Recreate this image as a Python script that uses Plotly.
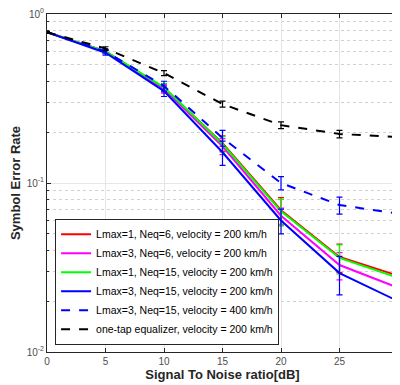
import plotly.graph_objects as go

snr = [0, 5, 10, 15, 20, 25, 30]

ser_l1_n6 = [0.78, 0.60, 0.365, 0.172, 0.069, 0.0365, 0.0283]
ser_l3_n6 = [0.78, 0.60, 0.360, 0.165, 0.064, 0.0327, 0.0240]
ser_l1_n15 = [0.78, 0.60, 0.368, 0.170, 0.068, 0.0360, 0.0275]
ser_l3_n15 = [0.78, 0.59, 0.350, 0.152, 0.060, 0.0293, 0.0200]
ser_l3_n15_400 = [0.78, 0.60, 0.375, 0.185, 0.100, 0.0740, 0.0660]
ser_onetap = [0.78, 0.625, 0.447, 0.293, 0.220, 0.195, 0.187]

err_l1_n6 = [0.005, 0.015, 0.02, 0.018, 0.013, 0.007, 0.005]
err_l3_n6 = [0.005, 0.015, 0.02, 0.018, 0.007, 0.006, 0.005]
err_l1_n15 = [0.005, 0.015, 0.02, 0.018, 0.012, 0.007, 0.005]
err_l3_n15 = [0.005, 0.02, 0.025, 0.025, 0.010, 0.0075, 0.0045]
err_l3_n15_400 = [0.005, 0.02, 0.025, 0.02, 0.009, 0.0085, 0.008]
err_onetap = [0.01, 0.015, 0.015, 0.012, 0.01, 0.01, 0.01]

labels = [
    "Lmax=1, Neq=6, velocity = 200 km/h",
    "Lmax=3, Neq=6, velocity = 200 km/h",
    "Lmax=1, Neq=15, velocity = 200 km/h",
    "Lmax=3, Neq=15, velocity = 200 km/h",
    "Lmax=3, Neq=15, velocity = 400 km/h",
    "one-tap equalizer, velocity = 200 km/h",
]

y_tickvals = [0.01, 0.1, 1]
y_ticktext = ["10<sup>-2</sup>", "10<sup>-1</sup>", "10<sup>0</sup>"]
x_tickvals = [0, 5, 10, 15, 20, 25, 30]

series = [ser_l1_n6, ser_l3_n6, ser_l1_n15, ser_l3_n15, ser_l3_n15_400, ser_onetap]
errors = [err_l1_n6, err_l3_n6, err_l1_n15, err_l3_n15, err_l3_n15_400, err_onetap]
colors = ["#FF0000", "#FF00FF", "#00FF00", "#0000FF", "#0000FF", "#000000"]
dashes = ["solid", "solid", "solid", "solid", "dash", "dash"]

fig = go.Figure()
for y, e, c, d, name in zip(series, errors, colors, dashes, labels):
    fig.add_trace(go.Scatter(
        x=snr, y=y, name=name, mode="lines",
        line=dict(color=c, width=2, dash=d),
        error_y=dict(type="data", array=e, visible=True, color=c, thickness=1.2, width=3),
    ))

axis_common = dict(
    showline=True, linecolor="#262626", linewidth=1, mirror="ticks",
    ticks="inside", ticklen=4, tickcolor="#262626",
    tickfont=dict(family="Liberation Sans, Arial", size=10, color="#4d4d4d"),
    showgrid=True, gridcolor="#e6e6e6", gridwidth=1, zeroline=False,
    automargin=False, ticklabeloverflow="allow",
)

fig.update_xaxes(range=[0, 30], tickvals=x_tickvals,
                 title=dict(text="<b>Signal To Noise ratio[dB]</b>", standoff=2,
                            font=dict(family="Liberation Sans, Arial", size=13, color="#262626")),
                 **axis_common)
fig.update_yaxes(type="log", range=[-2, 0], tickvals=y_tickvals, ticktext=y_ticktext,
                 title=dict(text="<b>Symbol Error Rate</b>", standoff=4,
                            font=dict(family="Liberation Sans, Arial", size=13, color="#262626")),
                 minor=dict(dtick="D1", showgrid=True, griddash="dot", gridcolor="#d0d0d0",
                            ticks="inside", ticklen=2, tickcolor="#262626"),
                 **axis_common)

fig.update_layout(
    width=392, height=377,
    margin=dict(l=39, r=2, t=6, b=33),
    paper_bgcolor="white", plot_bgcolor="white",
    showlegend=True,
    legend=dict(x=0.023, y=0.394, xanchor="left", yanchor="top",
                bgcolor="white", bordercolor="#262626", borderwidth=1,
                font=dict(family="Liberation Sans, Arial", size=10.5, color="#000000"),
                tracegroupgap=0),
)

fig.write_html("out.html")
